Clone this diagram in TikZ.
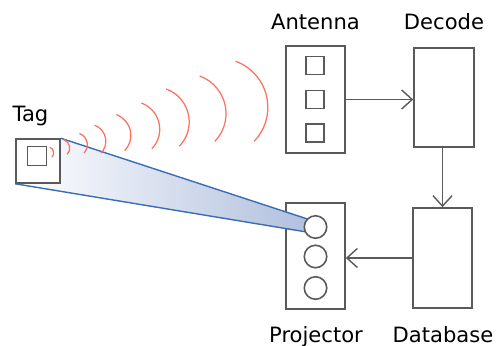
\documentclass[tikz,border=0pt]{standalone}
\usepackage{fontspec}
\setmainfont{DejaVu Sans}
\usetikzlibrary{arrows.meta,positioning,calc}
\pgfdeclarelayer{beamlayer}
\pgfsetlayers{beamlayer,main}
\definecolor{WaveRed}{HTML}{FF6E5E}
\definecolor{BeamBlue}{HTML}{3A6DB5}
\definecolor{BeamFill}{HTML}{B1C0DE}
\definecolor{BoxGray}{HTML}{5A5A5A}

\begin{document}
\begin{tikzpicture}[x=0.02cm, y=0.02cm, every node/.style={font=\fontsize{12}{14}\selectfont}, box/.style={draw=BoxGray, line width=0.9pt, inner sep=0pt, fill=white}, unitbox/.style={box, minimum width=1.18cm}, coil/.style={box, minimum size=0.36cm}, lens/.style={box, circle, minimum size=0.45cm}, lbl/.style={anchor=base, inner sep=0pt}, arrow/.style={-{Straight Barb[length=0.21cm, width=0.38cm]}, draw=BoxGray, line width=0.8pt}, beam/.style={draw=BeamBlue, line width=0.8pt}, wave/.style={draw=WaveRed, line width=0.7pt}]
\useasboundingbox (0,0) rectangle (496,345);
% tag
\node[box, minimum size=0.88cm] (tag) at (38,184) {};
\node[coil, minimum size=0.38cm] (chip) at (37,189) {};
\node[lbl] (taglbl) at (30.5,223) {Tag};
% reader side
\node[unitbox, minimum height=2.14cm] (ant) at (315.5,245.5) {};
\node[box, minimum width=1.2cm, minimum height=1.98cm] (dec) at (444,247.5) {};
\node[box, minimum width=1.18cm, minimum height=2cm] (db) at (442.5,87) {};
\foreach \i/\y in {1/279.5, 2/245.5, 3/212} \node[coil] (coil\i) at (315,\y) {};
\node[lbl] (antlbl) at (315.5,315) {Antenna};
\node[lbl] (declbl) at (444,315) {Decode};
\node[lbl] (projlbl) at (316,3) {Projector};
\node[lbl] (dblbl) at (443,3) {Database};
% projected beam, under the tag and the lenses
\foreach \i/\y in {1/118, 2/88.5, 3/57} \coordinate (lens\i) at (315.5,\y);
\begin{pgfonlayer}{beamlayer}
\node[unitbox, minimum height=2.12cm] (proj) at (315.5,89) {};
\fill[left color=white, right color=BeamFill] (tag.north east) -- ($(lens1)+(135:11.3)$) -- ($(lens1)+(205:11.3)$) -- (tag.south west) -- cycle;
\draw[beam] (tag.north east) -- ($(lens1)+(135:11.3)$);
\draw[beam] (tag.south west) -- ($(lens1)+(205:11.3)$);
\end{pgfonlayer}
\foreach \i in {1,2,3} \node[lens] (lensnode\i) at (lens\i) {};
\draw[arrow] (ant.east) -- (ant.east -| dec.west);
\draw[arrow] (db.north |- dec.south) -- (db.north);
\draw[arrow] (db.west) -- (db.west -| proj.east);
% radio waves
\foreach \x/\y/\r in {53.5/193.5/6, 69.5/199/9, 87/203/12, 105.4/207.6/17, 130.3/214.6/22, 159/222/28, 188.3/231/35, 225/240.4/40, 266.6/248.7/49}
  \draw[wave] (\x,\y) ++(193:\r) ++(70:\r) arc[start angle=70, end angle=-44, radius=\r];
\end{tikzpicture}
\end{document}
